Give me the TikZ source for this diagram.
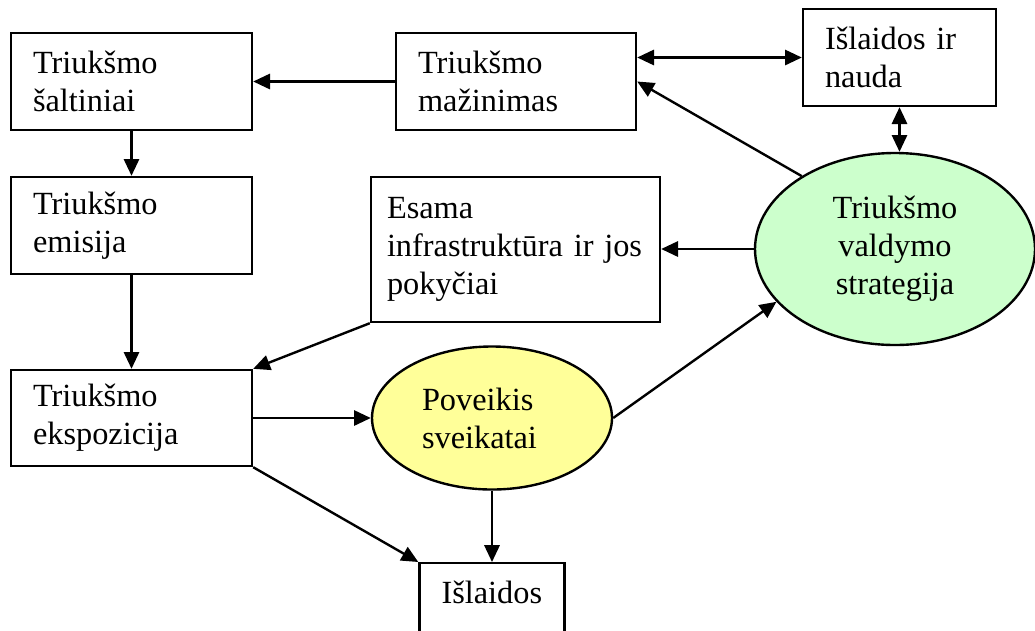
\documentclass[tikz,border=0pt]{standalone}
\usepackage{fontspec}
\setmainfont{Liberation Serif}
\usepackage{tikz}
\usetikzlibrary{arrows.meta,shapes.geometric}
\definecolor{stratgreen}{RGB}{204,255,204}
\definecolor{povyellow}{RGB}{255,255,153}

\begin{document}
\begin{tikzpicture}[line width=1.7pt,>={Triangle[length=0.42cm,width=0.38cm]}]
		\tikzstyle{box}=[rectangle,draw=black,align=left,inner xsep=0.55cm,font=\fontsize{23}{27}\selectfont]
		\tikzstyle{blob}=[ellipse,draw=black,font=\fontsize{23}{27}\selectfont]
		\useasboundingbox (0,0) rectangle (25.875,-15.75);

		\node[box,text width=4.925cm,minimum height=2.425cm] (salt) at (3.2875,-2.0375) {Triukšmo\\šaltiniai};
		\node[box,text width=4.925cm,minimum height=2.425cm] (emis) at (3.2875,-5.6375) {Triukšmo\\emisija};
		\node[box,text width=4.925cm,minimum height=2.4cm] (ekspo) at (3.2875,-10.45) {Triukšmo\\ekspozicija};
		\node[box,text width=4.9cm,minimum height=2.425cm] (maz) at (12.9,-2.0375) {Triukšmo\\mažinimas};
		\node[box,text width=3.725cm,minimum height=2.425cm] (naud) at (22.4875,-1.4375) {Išlaidos ir\\nauda};
		\node[box,inner xsep=0.4cm,text width=6.425cm,minimum height=3.625cm] (esama) at (12.8875,-6.2375) {Esama\\infrastruktūra ir jos\\pokyčiai};
		\node[box,text width=2.525cm,text height=0.55cm,text depth=1.45cm,inner ysep=0.45cm,anchor=north] (isl) at (12.3,-14.05) {Išlaidos};

		\node[blob,fill=stratgreen,align=center,minimum width=7cm,minimum height=4.8cm] (strat) at (22.375,-6.225) {Triukšmo\\valdymo\\strategija};
		\node[blob,fill=povyellow,align=left,text width=3.5cm,minimum width=6cm,minimum height=3.575cm] (pov) at (12.3,-10.45) {Poveikis\\sveikatai};

		\draw[->] (maz.west) -- (salt.east);
		\draw[->] (salt) -- (emis);
		\draw[->] (emis) -- (ekspo);
		\draw[->] (esama.south west) -- (ekspo.north east);
		\draw[->] (ekspo.east) -- (pov.west);
		\draw[->] (ekspo.south east) -- (isl.north west);
		\draw[->] (pov.south) -- (isl.north);
		\draw[->] (pov.east) -- (strat.204);
		\draw[->] (strat.west) -- (strat.west -| esama.east);
		\draw[->] (strat.142) -- (maz.east);
		\draw[<->] (maz.east |- naud.west) -- (naud.west);
		\draw[<->] (naud.south) -- (naud.south |- strat.north);
	\end{tikzpicture}
\end{document}
